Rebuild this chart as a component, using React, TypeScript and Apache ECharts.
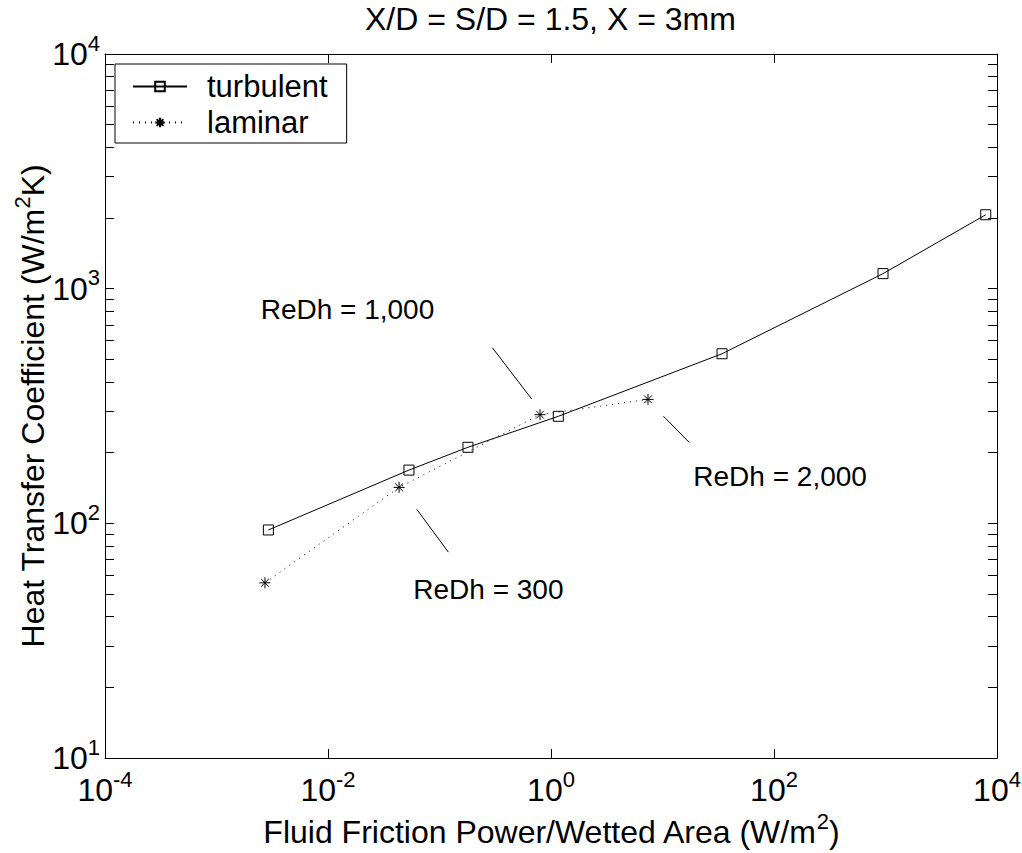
import React, { useEffect, useRef } from "react";
import * as echarts from "echarts";

// ---- data ----
const turbulentX = [0.00292, 0.0532, 0.18, 1.163, 34.2, 950, 7925];
const turbulentY = [93.7, 168.6, 210.9, 285.8, 528, 1159, 2065];
const laminarX = [0.00272, 0.0434, 0.797, 7.41];
const laminarY = [55.8, 142.3, 290.4, 337.4];

const xMin = 1e-4;
const xMax = 1e4;
const yMin = 10;
const yMax = 1e4;
const yTickValues = [
  10, 20, 30, 40, 50, 60, 70, 80, 90,
  100, 200, 300, 400, 500, 600, 700, 800, 900,
  1000, 2000, 3000, 4000, 5000, 6000, 7000, 8000, 9000, 10000,
];

const annotationTexts = ["ReDh = 1,000", "ReDh = 2,000", "ReDh = 300"];
const annotationTextX = [0.00249, 18.9, 0.0582];
const annotationTextY = [817, 158, 52.0];
const leaderStartX = [0.298, 10.2, 0.0625];
const leaderStartY = [560, 286, 114.8];
const leaderEndX = [0.671, 17.4, 0.12];
const leaderEndY = [338.6, 221, 75.4];

const titleText = "X/D = S/D = 1.5, X = 3mm";
const xName = "Fluid Friction Power/Wetted Area (W/m{s|2})";
const yName = "Heat Transfer Coefficient (W/m{s|2}K)";

const FONT = "'Liberation Sans', Arial, Helvetica, sans-serif";
const asterisk =
  "path://M6,0L6,12M0,6L12,6M1.8,1.8L10.2,10.2M1.8,10.2L10.2,1.8";

const pow10Label = (v: number) => `{b|10}{s|${Math.round(Math.log10(v))}}`;
const tickRich = {
  b: { fontSize: 32, color: "#000", fontFamily: FONT },
  s: { fontSize: 22, color: "#000", fontFamily: FONT, padding: [0, 0, 22, 0] },
};
const nameRich = {
  s: { fontSize: 22, color: "#000", fontFamily: FONT, padding: [0, 0, 22, 0] },
};

export default function App() {
  const ref = useRef<HTMLDivElement>(null);

  useEffect(() => {
    document.body.style.margin = "0";
    if (!ref.current) return;
    const chart = echarts.init(ref.current, undefined, { renderer: "svg" });

    const zip = (xs: number[], ys: number[]) => xs.map((x, i) => [x, ys[i]]);

    const leaderSeries = annotationTexts.map((_, i) => ({
      type: "line",
      name: "leader" + i,
      data: [
        [leaderStartX[i], leaderStartY[i]],
        [leaderEndX[i], leaderEndY[i]],
      ],
      showSymbol: false,
      symbol: "none",
      silent: true,
      lineStyle: { color: "#000", width: 1 },
      z: 3,
    }));

    const option: any = {
      animation: false,
      backgroundColor: "#fff",
      textStyle: { fontFamily: FONT, color: "#000" },
      title: {
        text: titleText,
        left: 365,
        top: 3,
        padding: 0,
        textStyle: {
          fontSize: 32,
          fontWeight: "normal",
          color: "#000",
          fontFamily: FONT,
          lineHeight: 32,
        },
      },
      legend: {
        data: ["turbulent", "laminar"],
        orient: "vertical",
        left: 115,
        top: 64,
        backgroundColor: "#fff",
        borderColor: "#000",
        borderWidth: 1,
        borderRadius: 0,
        padding: [7, 19, 5, 17],
        itemWidth: 54,
        itemHeight: 12,
        itemGap: 5,
        textStyle: {
          fontSize: 31,
          lineHeight: 31,
          color: "#000",
          fontFamily: FONT,
          padding: [0, 0, 0, 15],
        },
      },
      grid: {
        left: 105,
        right: 25,
        top: 54,
        bottom: 95,
        containLabel: false,
        outerBoundsMode: "none",
      },
      xAxis: [
        {
          type: "log",
          logBase: 10,
          position: "bottom",
          min: xMin,
          max: xMax,
          interval: 2,
          axisLine: { show: true, lineStyle: { color: "#000", width: 1 } },
          axisTick: { show: true, inside: true, length: 9, lineStyle: { color: "#000" } },
          axisLabel: {
            show: true,
            margin: 10,
            formatter: pow10Label,
            rich: tickRich,
          },
          splitLine: { show: false },
          minorTick: { show: false },
          name: xName,
          nameLocation: "middle",
          nameGap: 52,
          nameMoveOverlap: false,
          nameTextStyle: { fontSize: 32, color: "#000", fontFamily: FONT, rich: nameRich },
        },
        {
          type: "log",
          logBase: 10,
          position: "top",
          min: xMin,
          max: xMax,
          interval: 2,
          axisLine: { show: true, lineStyle: { color: "#000", width: 1 } },
          axisTick: { show: true, inside: true, length: 9, lineStyle: { color: "#000" } },
          axisLabel: { show: false },
          splitLine: { show: false },
        },
      ],
      yAxis: [
        {
          type: "log",
          logBase: 10,
          position: "left",
          min: yMin,
          max: yMax,
          interval: 1,
          axisLine: { show: true, lineStyle: { color: "#000", width: 1 } },
          axisTick: {
            show: true,
            inside: true,
            length: 9,
            customValues: yTickValues,
            lineStyle: { color: "#000" },
          },
          axisLabel: {
            show: true,
            margin: 5,
            formatter: pow10Label,
            rich: tickRich,
          },
          splitLine: { show: false },
          name: yName,
          nameLocation: "middle",
          nameGap: 50,
          nameMoveOverlap: false,
          nameTextStyle: { fontSize: 32, color: "#000", fontFamily: FONT, rich: nameRich },
        },
        {
          type: "log",
          logBase: 10,
          position: "right",
          min: yMin,
          max: yMax,
          interval: 1,
          axisLine: { show: true, lineStyle: { color: "#000", width: 1 } },
          axisTick: {
            show: true,
            inside: true,
            length: 9,
            customValues: yTickValues,
            lineStyle: { color: "#000" },
          },
          axisLabel: { show: false },
          splitLine: { show: false },
        },
      ],
      series: [
        {
          type: "line",
          name: "turbulent",
          data: zip(turbulentX, turbulentY),
          symbol: "rect",
          symbolSize: 10,
          showAllSymbol: true,
          itemStyle: { color: "none", borderColor: "#000", borderWidth: 1 },
          lineStyle: { color: "#000", width: 1, type: "solid" },
          z: 4,
        },
        {
          type: "line",
          name: "laminar",
          data: zip(laminarX, laminarY),
          symbol: asterisk,
          symbolSize: 11,
          symbolKeepAspect: true,
          showAllSymbol: true,
          itemStyle: { color: "none", borderColor: "#000", borderWidth: 1 },
          lineStyle: { color: "#000", width: 1, type: [1, 5] },
          z: 4,
        },
        ...leaderSeries,
        {
          type: "scatter",
          name: "annotations",
          symbolSize: 0,
          silent: true,
          data: annotationTexts.map((t, i) => ({
            name: t,
            value: [annotationTextX[i], annotationTextY[i]],
          })),
          label: {
            show: true,
            position: "right",
            distance: 0,
            formatter: (p: any) => p.name,
            fontSize: 28,
            fontWeight: "normal",
            color: "#000",
            opacity: 1,
            textBorderWidth: 0,
            fontFamily: FONT,
          },
          z: 5,
        },
      ],
    };

    chart.setOption(option);
    return () => chart.dispose();
  }, []);

  return <div ref={ref} style={{ width: 1022, height: 853 }} />;
}
